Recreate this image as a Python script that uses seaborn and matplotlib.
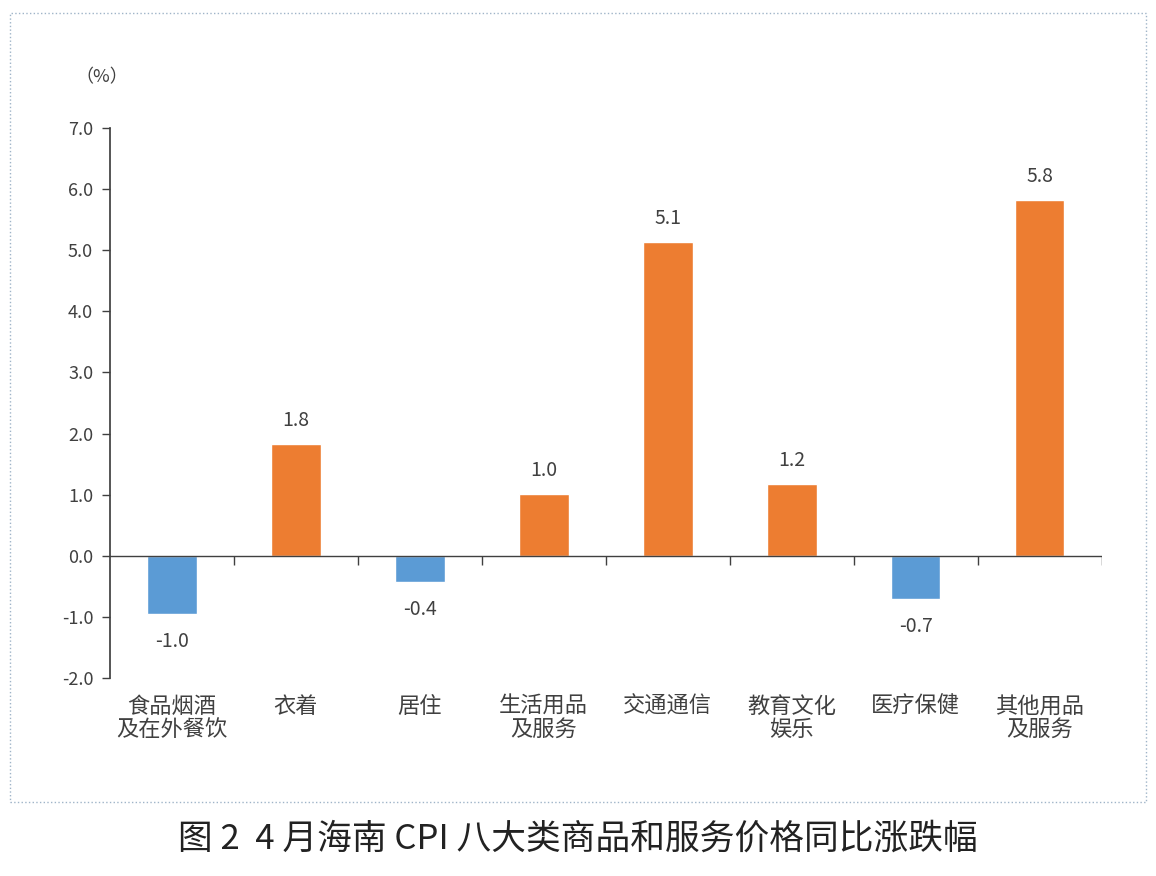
import matplotlib
matplotlib.use('Agg')
import matplotlib.pyplot as plt
import matplotlib.patches as mpatches
import seaborn as sns
import pandas as pd

categories = ['食品烟酒\n及在外餐饮', '衣着', '居住', '生活用品\n及服务', '交通通信', '教育文化\n娱乐', '医疗保健', '其他用品\n及服务']
values = [-0.96, 1.83, -0.43, 1.01, 5.13, 1.18, -0.70, 5.82]
y_ticks = [-2.0, -1.0, 0.0, 1.0, 2.0, 3.0, 4.0, 5.0, 6.0, 7.0]

sns.set_theme(style='white')
plt.rcParams['font.family'] = ['Noto Sans CJK SC', 'DejaVu Sans']
txt = '#404040'

df = pd.DataFrame({'cat': categories, 'val': values})
colors = ['#5B9BD5' if v < 0 else '#ED7D31' for v in values]

fig = plt.figure(figsize=(11.56, 8.76), dpi=100)
ax = fig.add_axes([0.095, 0.226, 0.858, 0.628])
sns.barplot(data=df, x='cat', y='val', hue='cat', palette=colors, legend=False,
            width=0.4, saturation=1, ax=ax)

ax.set_ylim(-2, 7)
ax.set_xlim(-0.5, len(categories) - 0.5)
ax.set_yticks(y_ticks)
ax.set_yticklabels([f'{t:.1f}' for t in y_ticks], color=txt, fontsize=13)
ax.tick_params(axis='y', length=6, width=1, color='#404040', direction='out', left=True, pad=6)
ax.tick_params(axis='x', length=0, pad=12)
ax.set_xticks(range(len(categories)))
ax.set_xticklabels(categories, color=txt, fontsize=16, linespacing=1.0)
ax.set_xlabel('')
ax.set_ylabel('')
for s in ['top', 'right', 'bottom']:
    ax.spines[s].set_visible(False)
ax.spines['left'].set_color('#404040')

ax.axhline(0, color='#404040', lw=1)
for b in range(len(categories)):
    ax.vlines(b + 0.5, -0.15, 0, color='#404040', lw=1)

for i, v in enumerate(values):
    off = 0.38 if v >= 0 else -0.45
    ax.text(i, v + off, f'{v:.1f}', ha='center', va='center', fontsize=14, color=txt)

fig.text(0.065, 0.912, '（%）', fontsize=13, color=txt, ha='left', va='center')

border = mpatches.Rectangle((0.009, 0.085), 0.982, 0.9, transform=fig.transFigure,
                            fill=False, ls=':', lw=1, ec='#9fb4c8')
fig.add_artist(border)

fig.text(0.5, 0.042, '图 2  4 月海南 CPI 八大类商品和服务价格同比涨跌幅', fontsize=25,
         ha='center', va='center', color='#222222')

fig.savefig('out.png', dpi=100)
